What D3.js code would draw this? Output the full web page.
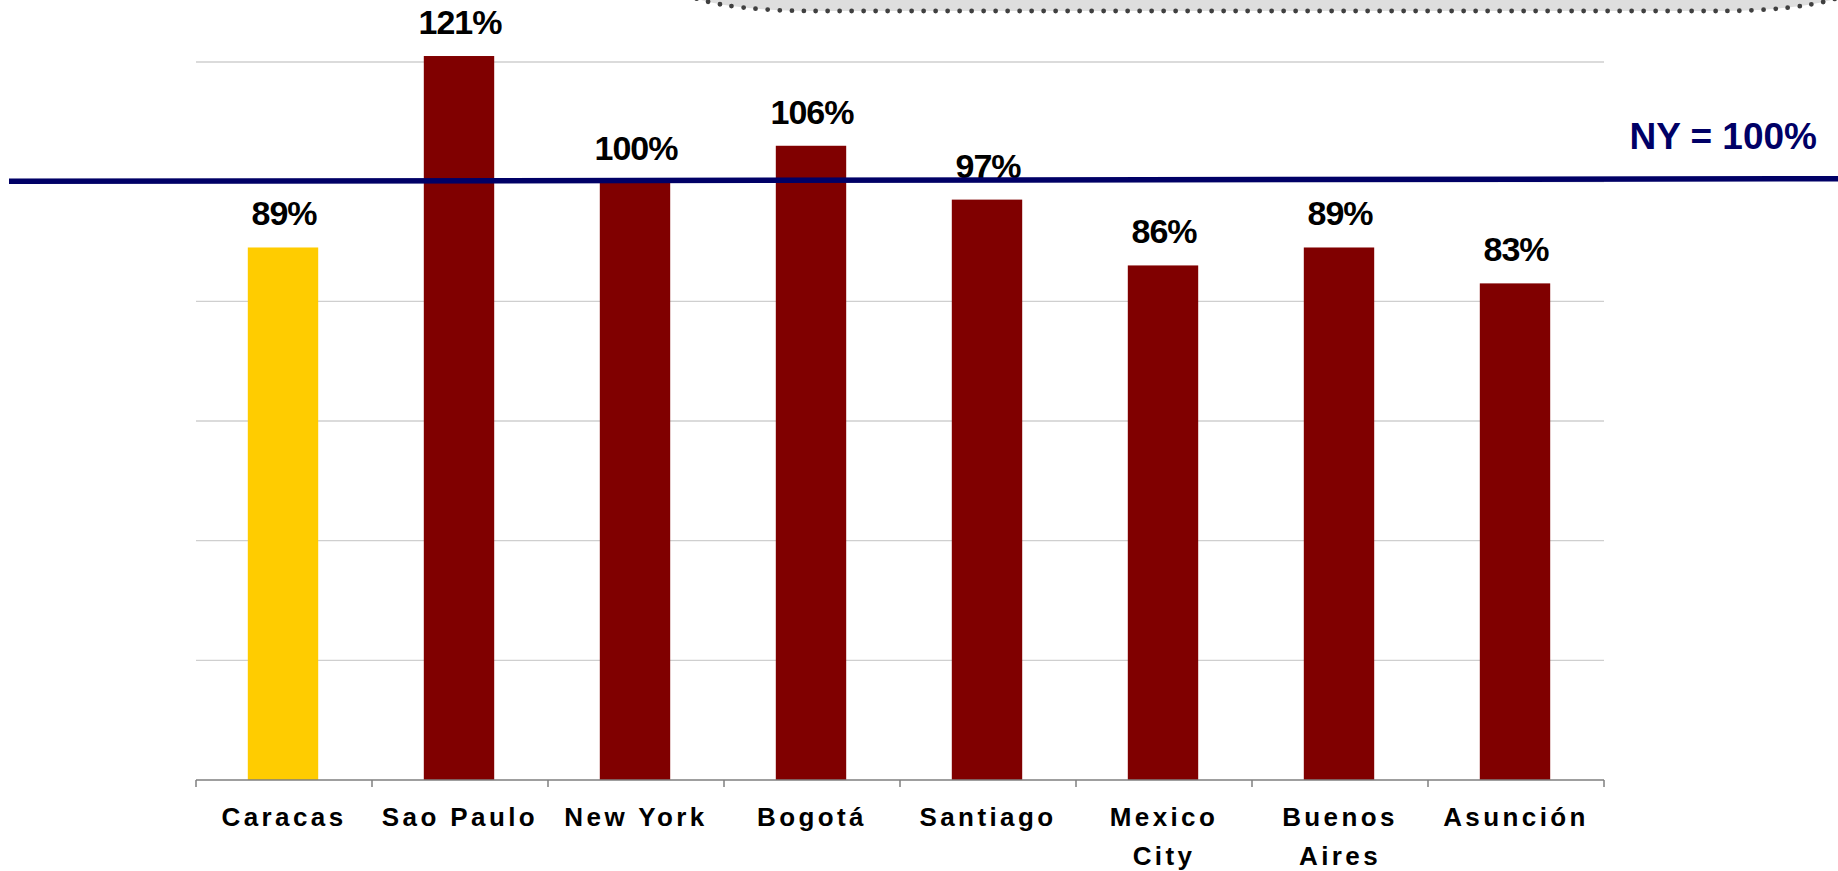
<!DOCTYPE html>
<html>
<head>
<meta charset="utf-8">
<script src="https://cdn.jsdelivr.net/npm/d3@7"></script>
<style>
  html, body { margin: 0; padding: 0; background: #fff; overflow: hidden; }
  svg { display: block; font-family: "Liberation Sans", Arial, sans-serif; }
</style>
</head>
<body>
<svg id="chart"></svg>
<script>
// ── Data ──
const categories = ["Caracas", "Sao Paulo", "New York", "Bogotá", "Santiago", "Mexico\nCity", "Buenos\nAires", "Asunción"];
const values = [89, 121, 100, 106, 97, 86, 89, 83];
const highlighted = "Caracas";
const gridTicks = [20, 40, 60, 80, 100, 120];
const benchmark = 100;
const benchmarkLabel = "NY = 100%";

// ── Setup ──
const width = 1838;
const height = 871;
const plot = { left: 196, right: 1604, top: 62, bottom: 780 };

const svg = d3.select("#chart")
  .attr("width", width)
  .attr("height", height)
  .attr("viewBox", [0, 0, width, height]);

const x = d3.scaleBand()
  .domain(categories)
  .range([plot.left, plot.right])
  .paddingInner(0.6)
  .paddingOuter(0.3);

const y = d3.scaleLinear()
  .domain([0, 120])
  .range([plot.bottom, plot.top]);

const slotStart = c => x(c) - x.step() * 0.3;

// ── Callout shape cut off at the top ──
svg.append("rect")
  .attr("x", 682)
  .attr("y", -100)
  .attr("width", 1168)
  .attr("height", 111)
  .attr("rx", 130)
  .attr("ry", 23)
  .attr("fill", "#dedede")
  .attr("stroke", "#404040")
  .attr("stroke-width", 4.8)
  .attr("stroke-linecap", "round")
  .attr("stroke-dasharray", "0 12");

// ── Gridlines ──
svg.append("g")
  .selectAll("line")
  .data(gridTicks)
  .join("line")
  .attr("x1", plot.left)
  .attr("x2", plot.right)
  .attr("y1", d => y(d))
  .attr("y2", d => y(d))
  .attr("stroke", "#cfcfcf")
  .attr("stroke-width", 1.4);

// ── Bars ──
svg.append("g")
  .selectAll("rect")
  .data(categories)
  .join("rect")
  .attr("x", c => x(c) - 1)
  .attr("y", (c, i) => y(values[i]))
  .attr("width", x.bandwidth())
  .attr("height", (c, i) => y(0) - y(values[i]))
  .attr("fill", c => c === highlighted ? "#ffcc00" : "#800000");

// ── Value labels ──
svg.append("g")
  .selectAll("text")
  .data(categories)
  .join("text")
  .attr("x", c => x(c) + x.bandwidth() / 2)
  .attr("y", (c, i) => y(values[i]) - 22)
  .attr("text-anchor", "middle")
  .attr("font-size", 34)
  .attr("font-weight", "bold")
  .attr("letter-spacing", "-1px")
  .attr("fill", "#000")
  .text((c, i) => values[i] + "%");

// ── X axis ──
const axis = svg.append("g").attr("stroke", "#7f7f7f").attr("stroke-width", 1.5);

axis.append("line")
  .attr("x1", plot.left)
  .attr("x2", plot.right)
  .attr("y1", y(0))
  .attr("y2", y(0));

const boundaries = categories.map(slotStart).concat([plot.right]);
axis.selectAll("line.tick")
  .data(boundaries)
  .join("line")
  .attr("class", "tick")
  .attr("x1", d => d)
  .attr("x2", d => d)
  .attr("y1", y(0))
  .attr("y2", y(0) + 7);

const catLabels = svg.append("g")
  .selectAll("text")
  .data(categories)
  .join("text")
  .attr("x", c => x(c) + x.bandwidth() / 2)
  .attr("y", y(0) + 46)
  .attr("text-anchor", "middle")
  .attr("font-size", 26)
  .attr("font-weight", "bold")
  .attr("letter-spacing", "3.4px")
  .attr("fill", "#000");

catLabels.selectAll("tspan")
  .data(c => c.split("\n").map(t => ({ t, cx: x(c) + x.bandwidth() / 2 })))
  .join("tspan")
  .attr("x", d => d.cx)
  .attr("dy", (d, i) => i === 0 ? 0 : 39)
  .text(d => d.t);

// ── Benchmark line (NY = 100%) ──
svg.append("line")
  .attr("x1", 9)
  .attr("x2", width)
  .attr("y1", y(benchmark) - 0.3)
  .attr("y2", y(benchmark) - 3)
  .attr("stroke", "#000066")
  .attr("stroke-width", 5.5);

svg.append("text")
  .attr("x", 1817)
  .attr("y", 149)
  .attr("text-anchor", "end")
  .attr("font-size", 37)
  .attr("font-weight", "bold")
  .attr("fill", "#000066")
  .text(benchmarkLabel);
</script>
</body>
</html>
